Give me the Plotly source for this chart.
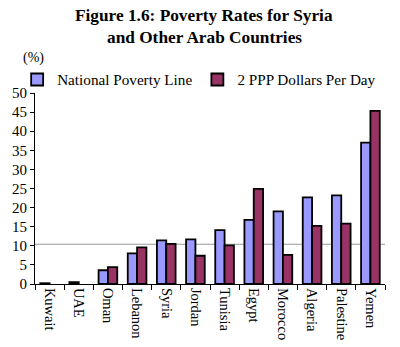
import plotly.graph_objects as go

countries = ["Kuwait", "UAE", "Oman", "Lebanon", "Syria", "Jordan", "Tunisia",
             "Egypt", "Morocco", "Algeria", "Palestine", "Yemen"]
national_line = [0.2, 0.5, 3.6, 8.0, 11.4, 11.7, 14.1, 16.8, 19.0, 22.7, 23.2, 37.0]
ppp_2_dollars = [None, None, 4.4, 9.6, 10.5, 7.4, 10.1, 24.9, 7.6, 15.2, 15.8, 45.3]
reference_level = 10.4
y_ticks = [0, 5, 10, 15, 20, 25, 30, 35, 40, 45, 50]

FONT = "Liberation Serif, Times New Roman, serif"

fig = go.Figure()
fig.add_trace(go.Bar(x=countries, y=national_line, name="National Poverty Line",
                     marker=dict(color="#9999FF", line=dict(color="black", width=1.8))))
fig.add_trace(go.Bar(x=countries, y=ppp_2_dollars, name="2 PPP Dollars Per Day",
                     marker=dict(color="#993366", line=dict(color="black", width=1.8))))

fig.add_hline(y=reference_level, line=dict(color="#999999", width=1.2), layer="below")

fig.update_layout(
    width=400, height=347,
    margin=dict(l=35, r=15, t=93, b=63),
    paper_bgcolor="white", plot_bgcolor="white",
    font=dict(family=FONT, size=14, color="black"),
    barmode="group", bargap=0.36, bargroupgap=0.0,
    showlegend=True,
    legend=dict(orientation="h", x=-0.051, xanchor="left", y=1.07, yanchor="middle",
                font=dict(family=FONT, size=15.2), itemwidth=30, tracegroupgap=0,
                bgcolor="rgba(0,0,0,0)"),
    xaxis=dict(showline=True, linecolor="black", linewidth=1, ticks="outside",
               tickson="boundaries", ticklen=5, tickcolor="black", tickangle=90,
               tickfont=dict(family=FONT, size=14.5), showgrid=False, automargin=False),
    yaxis=dict(range=[0, 50], tickvals=y_ticks, showline=True, linecolor="black",
               linewidth=1, ticks="outside", ticklen=4, tickcolor="black",
               showgrid=False, zeroline=False, tickfont=dict(family=FONT, size=15),
               automargin=False),
)
fig.add_annotation(text="<b>Figure 1.6: Poverty Rates for Syria</b>",
                   xref="paper", yref="paper", x=0.483, y=1.0, xanchor="center",
                   yanchor="middle", yshift=78, showarrow=False,
                   font=dict(family=FONT, size=17.3))
fig.add_annotation(text="<b>and Other Arab Countries</b>",
                   xref="paper", yref="paper", x=0.483, y=1.0, xanchor="center",
                   yanchor="middle", yshift=56, showarrow=False,
                   font=dict(family=FONT, size=17.3))
fig.add_annotation(text="(%)", xref="paper", yref="paper", x=-0.04, y=1.0,
                   xanchor="left", yanchor="middle", yshift=35, showarrow=False,
                   font=dict(family=FONT, size=14))
fig.write_html("out.html")
